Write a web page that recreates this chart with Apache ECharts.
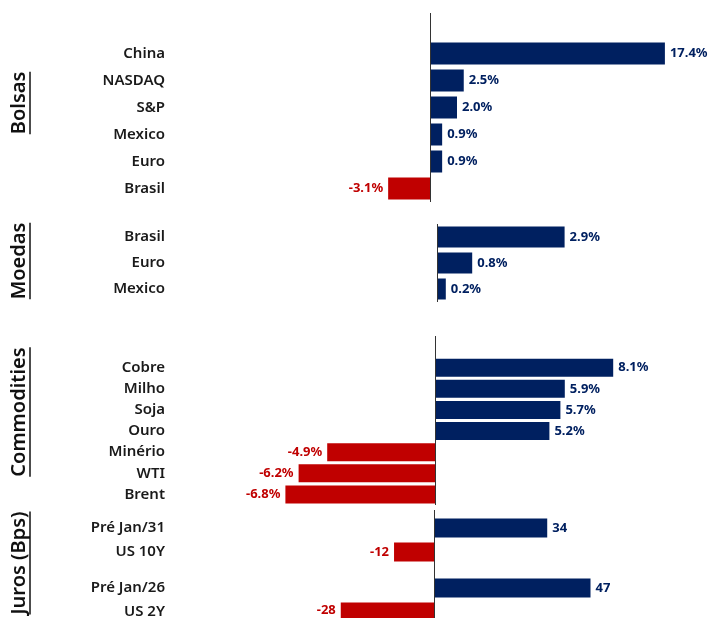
<!DOCTYPE html>
<html>
<head>
<meta charset="utf-8">
<script src="https://cdn.jsdelivr.net/npm/echarts@6/dist/echarts.min.js"></script>
<style>
html, body { margin: 0; padding: 0; background: #fff; }
#chart { width: 712px; height: 619px; }
</style>
</head>
<body>
<div id="chart"></div>
<script>
// dados
const bolsasCats = ['China', 'NASDAQ', 'S&P', 'Mexico', 'Euro', 'Brasil'];
const bolsasVals = [17.4, 2.5, 2.0, 0.9, 0.9, -3.1];
const moedasCats = ['Brasil', 'Euro', 'Mexico'];
const moedasVals = [2.9, 0.8, 0.2];
const commodCats = ['Cobre', 'Milho', 'Soja', 'Ouro', 'Minério', 'WTI', 'Brent'];
const commodVals = [8.1, 5.9, 5.7, 5.2, -4.9, -6.2, -6.8];
const jurosCats = ['Pré Jan/31', 'US 10Y', 'Pré Jan/26', 'US 2Y'];
const jurosVals = [34, -12, 47, -28];
const titles = ['Bolsas', 'Moedas', 'Commodities', 'Juros (Bps)'];

const NAVY = '#002060';
const RED = '#c00000';
const FONT = '"Noto Sans", sans-serif';
const pct = v => v.toFixed(1) + '%';

// layout de cada painel
const panels = [
  { cats: bolsasCats, vals: bolsasVals, slots: [1, 2, 3, 4, 5, 6], n: 7, top: 13, height: 189, zero: 430, scale: 13.5, min: -19, max: 19, barWidth: 22, fmt: pct },
  { cats: moedasCats, vals: moedasVals, slots: [0, 1, 2], n: 3, top: 224, height: 78, zero: 437, scale: 44, min: -6, max: 6, barWidth: 21, fmt: pct },
  { cats: commodCats, vals: commodVals, slots: [1, 2, 3, 4, 5, 6, 7], n: 8, top: 336, height: 169, zero: 435, scale: 22, min: -12, max: 12, barWidth: 18, fmt: pct },
  { cats: jurosCats, vals: jurosVals, slots: [1, 3, 6, 8], n: 9, top: 510, height: 108, zero: 434, scale: 3.33, min: -80, max: 80, barWidth: 19, fmt: v => String(v) }
];
const titleY = [103, 261, 412, 563];

const grid = [], xAxis = [], yAxis = [], series = [];
panels.forEach((p, i) => {
  const left = p.zero + p.min * p.scale;
  const names = [];
  const data = [];
  for (let k = 0; k < p.n; k++) { names.push(String(k)); data.push(null); }
  const labelOf = {};
  p.slots.forEach((s, j) => {
    labelOf[String(s)] = p.cats[j];
    const v = p.vals[j];
    const c = v < 0 ? RED : NAVY;
    data[s] = {
      value: v,
      itemStyle: { color: c },
      label: { position: v < 0 ? 'left' : 'right', color: c }
    };
  });
  grid.push({ left: left, width: (p.max - p.min) * p.scale, top: p.top, height: p.height, outerBoundsMode: 'none' });
  xAxis.push({ type: 'value', gridIndex: i, min: p.min, max: p.max, show: false });
  yAxis.push({
    type: 'category', gridIndex: i, inverse: true, data: names,
    axisLine: { show: false, onZero: false },
    axisTick: { show: false },
    axisLabel: {
      interval: 0, hideOverlap: false,
      margin: left - 165,
      color: '#1a1a1a', fontSize: 15, fontWeight: 600, fontFamily: FONT,
      formatter: v => labelOf[v] || ''
    }
  });
  series.push({
    type: 'bar', xAxisIndex: i, yAxisIndex: i, data: data,
    barWidth: p.barWidth,
    label: {
      show: true, distance: 5, fontSize: 13, fontWeight: 'bold', fontFamily: FONT,
      formatter: o => p.fmt(o.value)
    },
    markLine: {
      silent: true, symbol: 'none', label: { show: false },
      lineStyle: { color: '#333', width: 1, type: 'solid' },
      data: [{ xAxis: 0 }]
    }
  });
});

// titulos rotacionados com sublinhado
const ctx = document.createElement('canvas').getContext('2d');
const titleFont = '600 20px ' + FONT;
ctx.font = titleFont;
const graphic = [];
titles.forEach((t, i) => {
  const w = ctx.measureText(t).width;
  graphic.push({
    type: 'text', x: 19, y: titleY[i], rotation: Math.PI / 2,
    style: { text: t, font: titleFont, fill: '#111', align: 'center', verticalAlign: 'middle' }
  });
  graphic.push({
    type: 'line',
    shape: { x1: 30, y1: titleY[i] - w / 2, x2: 30, y2: titleY[i] + w / 2 },
    style: { stroke: '#111', lineWidth: 1.5 }
  });
});

const chart = echarts.init(document.getElementById('chart'));
chart.setOption({
  animation: false,
  grid: grid,
  xAxis: xAxis,
  yAxis: yAxis,
  series: series,
  graphic: graphic
});
</script>
</body>
</html>
